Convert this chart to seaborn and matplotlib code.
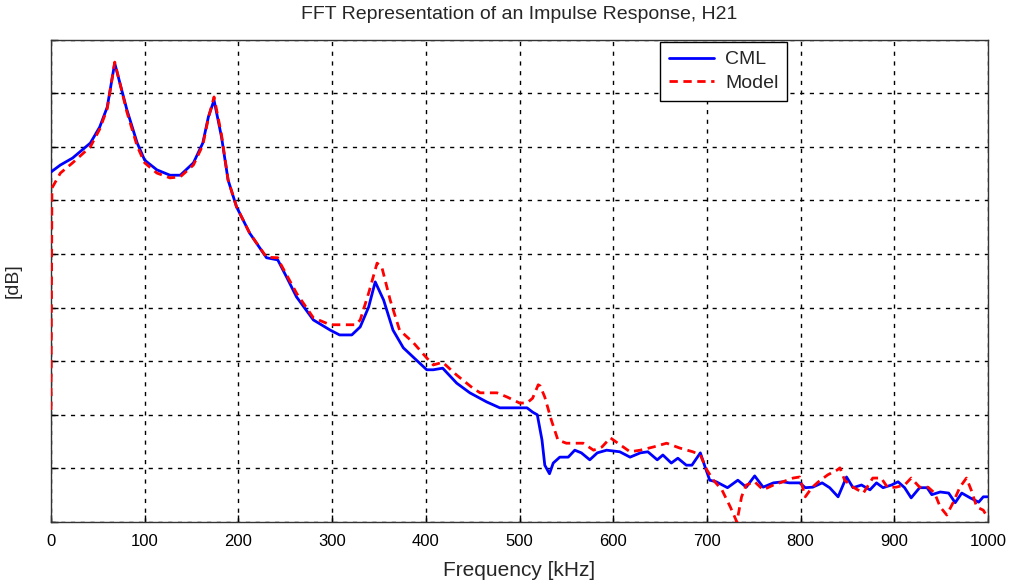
import matplotlib
matplotlib.use("Agg")
import matplotlib.pyplot as plt
import seaborn as sns
import pandas as pd

# CML (measured) response
cml_freq = [0, 10, 23, 42, 52, 60, 68, 81, 92, 100, 113, 127, 138, 152, 162, 168, 174, 182, 189, 198,
            212, 230, 242, 252, 262, 280, 298, 308, 321, 330, 339, 346, 355, 365, 376, 390, 401, 408,
            418, 433, 447, 465, 479, 508, 514, 519, 524, 527, 532, 536, 543, 552, 559, 566, 575, 583,
            593, 607, 618, 629, 637, 647, 653, 662, 669, 678, 684, 693, 698, 703, 710, 722, 733, 742,
            751, 760, 771, 781, 788, 799, 805, 813, 823, 831, 840, 849, 856, 865, 874, 881, 888, 897,
            904, 911, 918, 927, 935, 940, 949, 958, 965, 972, 981, 990, 995, 1000]
cml_db = [-24.7, -23.4, -22.1, -19.3, -16.3, -12.6, -4.4, -13.1, -19.3, -22.5, -24.3, -25.3, -25.3, -23.0,
          -19.3, -14.4, -11.3, -18.2, -26.2, -31.2, -36.1, -40.7, -41.1, -44.5, -48.0, -52.3, -54.2,
          -55.1, -55.1, -53.6, -49.9, -45.2, -48.6, -54.2, -57.5, -59.8, -61.6, -61.6, -61.3, -64.1,
          -65.9, -67.6, -68.7, -68.7, -69.5, -70.0, -74.7, -79.4, -81.0, -79.0, -77.9, -77.9, -76.6,
          -77.1, -78.4, -77.1, -76.6, -76.9, -77.9, -77.1, -76.9, -78.4, -77.5, -79.0, -78.1, -79.4,
          -79.4, -77.1, -79.7, -82.2, -82.5, -83.6, -82.2, -83.5, -81.4, -83.5, -82.7, -82.5, -82.7,
          -82.7, -83.6, -83.5, -82.7, -83.6, -85.3, -81.6, -83.6, -83.1, -84.0, -82.7, -83.6, -83.1,
          -82.5, -83.6, -85.5, -83.6, -83.6, -84.9, -84.4, -84.6, -86.4, -84.6, -85.5, -86.3, -85.3,
          -85.3]

# Model response
model_freq = [0, 1, 10, 23, 42, 52, 60, 68, 81, 92, 100, 113, 127, 138, 152, 162, 168, 174, 182, 189,
              198, 212, 230, 242, 244, 262, 280, 298, 308, 325, 330, 339, 348, 353, 362, 372, 387, 401,
              408, 418, 433, 450, 458, 476, 487, 500, 508, 514, 520, 522, 527, 534, 541, 550, 568, 579,
              588, 597, 605, 618, 629, 643, 657, 671, 685, 693, 700, 707, 716, 725, 732, 737, 742, 751,
              760, 771, 781, 792, 799, 805, 812, 819, 829, 839, 842, 847, 856, 867, 877, 886, 893, 902,
              911, 918, 927, 936, 943, 949, 956, 963, 970, 977, 982, 988, 995, 1000]
model_db = [-69.1, -27.7, -24.9, -23.0, -20.0, -16.7, -12.9, -4.2, -13.5, -19.9, -23.0, -24.9, -25.8,
            -25.6, -23.4, -19.7, -14.6, -10.7, -17.8, -26.2, -31.2, -36.1, -40.6, -40.7, -41.5, -47.3,
            -51.9, -53.2, -53.2, -53.2, -52.3, -47.3, -41.7, -42.4, -48.6, -54.2, -56.6, -59.4, -60.7,
            -60.2, -62.6, -65.0, -65.9, -65.9, -66.7, -67.8, -67.8, -66.9, -64.4, -64.6, -66.7, -71.0,
            -74.7, -75.3, -75.3, -76.6, -76.0, -74.3, -75.3, -76.9, -76.6, -76.0, -75.3, -76.2, -76.9,
            -77.5, -80.3, -82.2, -84.0, -87.2, -90.0, -85.3, -83.1, -82.5, -84.0, -83.1, -82.5, -81.8,
            -81.6, -85.3, -83.6, -82.5, -81.2, -80.3, -79.9, -82.2, -83.5, -84.6, -81.8, -81.8, -83.6,
            -83.5, -83.1, -81.8, -83.5, -83.5, -84.6, -87.2, -88.7, -86.3, -83.5, -81.8, -84.0, -87.2,
            -87.8, -89.3]

x_ticks = [0, 100, 200, 300, 400, 500, 600, 700, 800, 900, 1000]
y_ticks = [-90, -80, -70, -60, -50, -40, -30, -20, -10, 0]

sns.set_style("white")
plt.rcParams['font.family'] = ['Liberation Sans', 'DejaVu Sans']

fig = plt.figure(figsize=(10.16, 5.84), dpi=100)
ax = fig.add_axes([51 / 1016, 62 / 584, 937 / 1016, 482.4 / 584])

df_cml = pd.DataFrame({"f": cml_freq, "db": cml_db})
df_model = pd.DataFrame({"f": model_freq, "db": model_db})

sns.lineplot(data=df_cml, x="f", y="db", ax=ax, color="#0000ff", lw=2.0, label="CML", zorder=3)
sns.lineplot(data=df_model, x="f", y="db", ax=ax, color="#ff0000", lw=2.0, label="Model", zorder=4)
ax.lines[1].set_dashes([3, 2])

ax.set_xlim(0, 1000)
ax.set_ylim(-90, 0)
ax.set_xticks(x_ticks)
ax.set_xticklabels([str(t) for t in x_ticks], fontsize=12)
ax.set_yticks(y_ticks)
ax.set_yticklabels([])
ax.tick_params(direction="in", length=5, width=1, colors="black", bottom=True, left=True, pad=9)
ax.grid(True, color="black", linestyle=(0, (3, 4)), linewidth=1.0)

for s in ax.spines.values():
    s.set_visible(True)
    s.set_color("#333333")
    s.set_linewidth(1.0)

ax.set_title("FFT Representation of an Impulse Response, H21", fontsize=14, pad=15)
ax.set_xlabel("Frequency [kHz]", fontsize=15, labelpad=8)
ax.set_ylabel("[dB]", fontsize=14, labelpad=12)

leg = ax.legend(loc="upper right", bbox_to_anchor=(0.786, 0.995), borderaxespad=0, fontsize=14,
                frameon=True, fancybox=False, framealpha=1, edgecolor="black", handlelength=2.3,
                borderpad=0.45, labelspacing=0.3, handletextpad=0.6)
leg.get_frame().set_linewidth(1.0)

fig.savefig("out.png", dpi=100, facecolor="white")
